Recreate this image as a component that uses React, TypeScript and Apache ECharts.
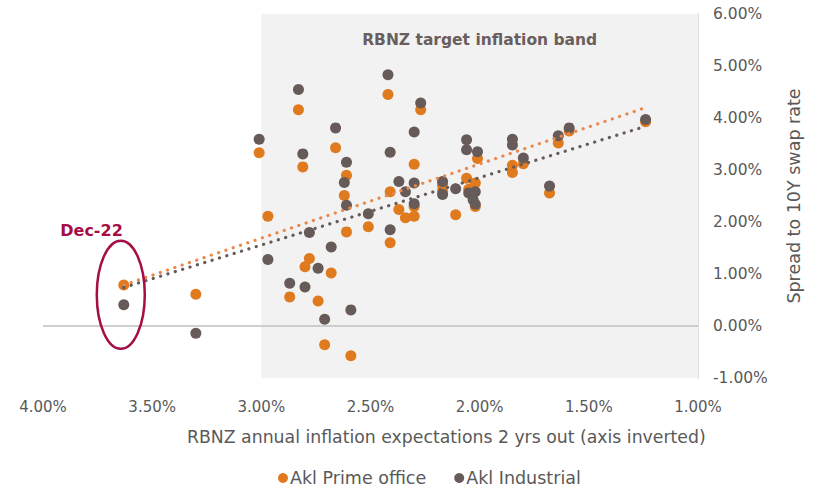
import React, { useEffect, useRef } from "react";
import * as echarts from "echarts";

// Akl Prime office: x = RBNZ 2-yr inflation expectation (%), y = spread to 10Y swap (%)
const primeX = [3.63, 3.30, 2.97, 3.01, 2.83, 2.81, 2.66, 2.61, 2.62, 2.61, 2.51, 2.78, 2.74, 2.68, 2.87, 2.80, 2.71, 2.59, 2.42, 2.27, 2.30, 2.41, 2.37, 2.30, 2.34, 2.30, 2.41, 2.06, 2.01, 2.17, 2.17, 2.11, 2.02, 2.05, 2.02, 1.85, 1.85, 1.80, 1.64, 1.59, 1.24, 1.68];
const primeY = [0.79, 0.61, 2.11, 3.33, 4.16, 3.06, 3.43, 2.90, 2.51, 1.81, 1.91, 1.30, 0.48, 1.02, 0.56, 1.14, -0.36, -0.57, 4.45, 4.16, 3.11, 2.58, 2.24, 2.11, 2.08, 2.30, 1.60, 2.84, 3.22, 2.70, 2.59, 2.14, 2.75, 2.63, 2.30, 3.09, 2.95, 3.12, 3.52, 3.75, 3.93, 2.56];

// Akl Industrial
const indX = [3.63, 3.30, 2.97, 3.01, 2.83, 2.81, 2.66, 2.61, 2.62, 2.61, 2.51, 2.78, 2.74, 2.68, 2.87, 2.80, 2.71, 2.59, 2.42, 2.27, 2.30, 2.41, 2.37, 2.30, 2.34, 2.30, 2.41, 2.06, 2.06, 2.01, 2.17, 2.17, 2.11, 2.05, 2.02, 2.03, 2.02, 1.85, 1.85, 1.80, 1.64, 1.59, 1.24, 1.68];
const indY = [0.41, -0.14, 1.28, 3.59, 4.55, 3.31, 3.81, 3.15, 2.76, 2.32, 2.16, 1.80, 1.11, 1.52, 0.82, 0.75, 0.13, 0.31, 4.83, 4.29, 3.73, 3.34, 2.78, 2.75, 2.58, 2.35, 1.85, 3.58, 3.39, 3.35, 2.78, 2.53, 2.64, 2.56, 2.58, 2.43, 2.34, 3.59, 3.48, 3.23, 3.66, 3.81, 3.97, 2.69];

// Linear trend lines (end points)
const trendPrimeX = [3.63, 1.24];
const trendPrimeY = [0.79, 4.2];
const trendIndX = [3.63, 1.24];
const trendIndY = [0.74, 3.84];

// Axis ranges / ticks
const xTicks = { min: 1, max: 4, interval: 0.5 };
const yTicks = { min: -1, max: 6, interval: 1 };
const bandFrom = 3;
const bandTo = 1;

const seriesNames = ["Akl Prime office", "Akl Industrial"];
const bandLabel = "RBNZ target inflation band";
const annotation = "Dec-22";
const xName = "RBNZ annual inflation expectations 2 yrs out (axis inverted)";
const yName = "Spread to 10Y swap rate";

const ORANGE = "#E07A1F";
const GREY = "#675B5A";
const FONT = "DejaVu Sans";

const zip = (xs: number[], ys: number[]) => xs.map((x, i) => [x, ys[i]]);

export default function App() {
  const ref = useRef<HTMLDivElement>(null);
  useEffect(() => {
    document.body.style.margin = "0";
    const chart = echarts.init(ref.current!, null, { renderer: "svg" });
    const pct = (v: number) => v.toFixed(2) + "%";
    chart.setOption({
      animation: false,
      textStyle: { fontFamily: FONT },
      grid: { left: 43, right: 119, top: 14, bottom: 111, containLabel: false },
      legend: {
        data: seriesNames,
        left: 278,
        top: 469,
        padding: 0,
        icon: "circle",
        itemWidth: 10,
        itemHeight: 10,
        itemGap: 28,
        textStyle: {
          color: "#595959",
          fontSize: 17.5,
          lineHeight: 18,
          fontFamily: FONT,
          padding: [0, 0, 0, -3],
        },
      },
      xAxis: {
        type: "value",
        inverse: true,
        min: xTicks.min,
        max: xTicks.max,
        interval: xTicks.interval,
        axisLine: { show: false },
        axisTick: { show: false },
        splitLine: { show: false },
        axisLabel: { formatter: pct, color: "#595959", fontSize: 15, margin: 21, fontFamily: FONT },
      },
      yAxis: {
        type: "value",
        position: "right",
        min: yTicks.min,
        max: yTicks.max,
        interval: yTicks.interval,
        axisLine: { show: true, lineStyle: { color: "#D4D4D4", width: 1.5 } },
        axisTick: { show: false },
        splitLine: { show: false },
        axisLabel: { formatter: pct, color: "#595959", fontSize: 15.5, margin: 15, fontFamily: FONT },
        name: yName,
        nameLocation: "middle",
        nameRotate: 90,
        nameGap: 87,
        nameTextStyle: { color: "#595959", fontSize: 17.5, fontFamily: FONT },
      },
      series: [
        {
          name: seriesNames[0],
          type: "scatter",
          symbolSize: 11,
          itemStyle: { color: ORANGE, opacity: 1 },
          data: zip(primeX, primeY),
          z: 3,
          markArea: {
            silent: true,
            itemStyle: { color: "#F2F2F2" },
            label: {
              show: true,
              position: "insideTop",
              distance: 18,
              color: "#6B5E5E",
              fontSize: 15.5,
              fontWeight: "bold",
              fontFamily: FONT,
            },
            data: [[{ xAxis: bandFrom, name: bandLabel }, { xAxis: bandTo }]],
          },
          markLine: {
            silent: true,
            symbol: "none",
            label: { show: false },
            lineStyle: { color: "#BFBFBF", width: 1.5, type: "solid" },
            data: [{ yAxis: 0 }],
          },
        },
        {
          name: seriesNames[1],
          type: "scatter",
          symbolSize: 11,
          itemStyle: { color: GREY, opacity: 1 },
          data: zip(indX, indY),
          z: 4,
        },
        {
          name: "Prime trend",
          type: "line",
          showSymbol: false,
          symbol: "none",
          silent: true,
          data: zip(trendPrimeX, trendPrimeY),
          lineStyle: { color: "#E8894B", width: 3.2, type: [0.1, 7.6], cap: "round" },
          z: 5,
        },
        {
          name: "Industrial trend",
          type: "line",
          showSymbol: false,
          symbol: "none",
          silent: true,
          data: zip(trendIndX, trendIndY),
          lineStyle: { color: GREY, width: 3.2, type: [0.1, 7.6], cap: "round" },
          z: 5,
        },
      ],
    });

    const decMid = (primeY[0] + indY[0]) / 2;
    const c = chart.convertToPixel({ gridIndex: 0 }, [primeX[0], decMid]) as number[];
    const cx = c[0] - 3;
    const cy = c[1];
    const rx = 24;
    const ry = 54;
    chart.setOption({
      graphic: [
        {
          type: "ellipse",
          shape: { cx, cy, rx, ry },
          style: { fill: "none", stroke: "#A50D46", lineWidth: 2.5 },
          z: 10,
        },
        {
          type: "text",
          x: cx + 2,
          y: cy - ry - 2,
          style: {
            text: annotation,
            fill: "#A50D46",
            font: `bold 16px "${FONT}"`,
            textAlign: "right",
            textVerticalAlign: "bottom",
          },
          z: 10,
        },
        {
          type: "text",
          x: 187,
          y: 437,
          style: {
            text: xName,
            fill: "#595959",
            font: `17.3px "${FONT}"`,
            textAlign: "left",
            textVerticalAlign: "middle",
          },
        },
      ],
    });
    return () => chart.dispose();
  }, []);
  return <div ref={ref} style={{ width: 817, height: 489 }} />;
}
